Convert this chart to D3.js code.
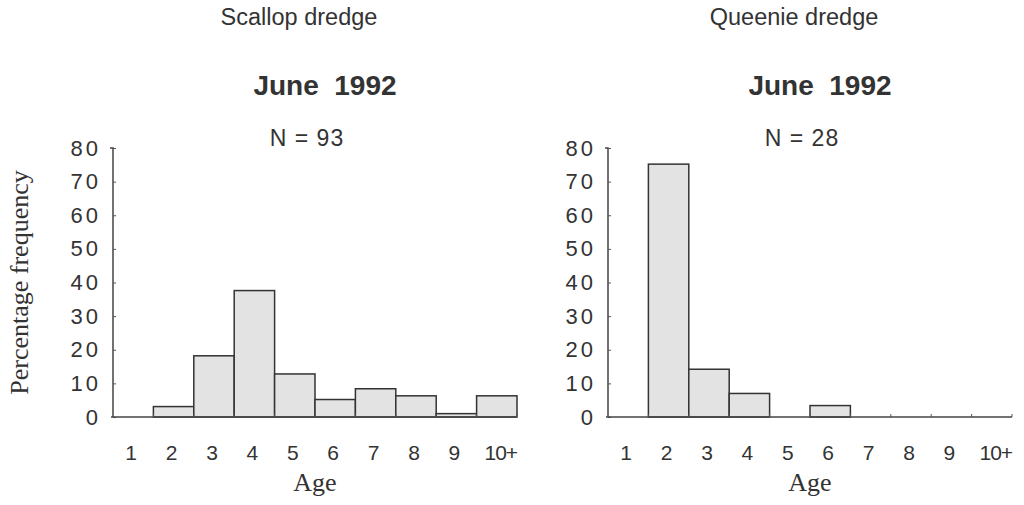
<!DOCTYPE html>
<html>
<head>
<meta charset="utf-8">
<script src="https://cdn.jsdelivr.net/npm/d3@7"></script>
<style>
  body { margin: 0; background: #fff; }
  svg { display: block; }
  .sans { font-family: "Liberation Sans", Arial, Helvetica, sans-serif; fill: #333; }
  .serif { font-family: "Liberation Serif", "Times New Roman", serif; fill: #333; }
</style>
</head>
<body>
<svg id="chart" width="1024" height="505"></svg>
<script>
(function () {
// data
var ages = ['1', '2', '3', '4', '5', '6', '7', '8', '9', '10+']
var scallopPct = [0, 3.1, 18.2, 37.6, 12.8, 5.2, 8.4, 6.3, 1.0, 6.3]
var queeniePct = [0, 75.2, 14.2, 7.0, 0, 3.4, 0, 0, 0, 0]
var gearNames = ['Scallop dredge', 'Queenie dredge']
var sampleSizes = [93, 28]
var yTicks = [0, 10, 20, 30, 40, 50, 60, 70, 80]
var monthLabel = 'June  1992'

var panels = [
    { name: gearNames[0], n: sampleSizes[0], values: scallopPct, x0: 113, x1: 517 },
    { name: gearNames[1], n: sampleSizes[1], values: queeniePct, x0: 608, x1: 1012 }
]

var top = 148, bottom = 417
var svg = d3.select('#chart')

var y = d3.scaleLinear().domain([0, 80]).range([bottom, top])

panels.forEach(function (p, pi) {
    var g = svg.append('g')
    var x = d3.scaleBand().domain(ages).range([p.x0, p.x1]).padding(0)
    var cx = (p.x0 + p.x1) / 2

    // bars
    g.selectAll('rect.bar')
        .data(ages.map(function (a, i) { return { age: a, v: p.values[i] } }).filter(function (d) { return d.v > 0 }))
        .enter()
        .append('rect')
        .attr('class', 'bar')
        .attr('x', function (d) { return x(d.age) })
        .attr('width', x.bandwidth())
        .attr('y', function (d) { return y(d.v) })
        .attr('height', function (d) { return y(0) - y(d.v) })
        .attr('fill', '#e3e3e3')
        .attr('stroke', '#333')
        .attr('stroke-width', 1.5)

    // y axis, ticks pointing inwards
    var ya = g.append('g')
        .attr('transform', 'translate(' + p.x0 + ',0)')
        .call(d3.axisLeft(y).tickValues(yTicks).tickSize(-3).tickPadding(12))
    ya.select('.domain').attr('stroke', '#444').attr('stroke-width', 1.5).attr('d', 'M-3,' + top + 'H0V' + bottom)
    ya.selectAll('.tick line').attr('stroke', '#555')
    ya.selectAll('.tick text')
        .attr('class', 'sans')
        .style('font-size', '22px')
        .style('letter-spacing', '3px')
        .attr('fill', '#333')

    // x axis line + small upward ticks at bin edges
    g.append('line')
        .attr('x1', p.x0 - 2).attr('x2', p.x1)
        .attr('y1', bottom).attr('y2', bottom)
        .attr('stroke', '#444').attr('stroke-width', 1.5)
    g.selectAll('line.edge')
        .data(ages)
        .enter()
        .append('line')
        .attr('class', 'edge')
        .attr('x1', function (d) { return x(d) + x.bandwidth() })
        .attr('x2', function (d) { return x(d) + x.bandwidth() })
        .attr('y1', bottom).attr('y2', bottom - 3)
        .attr('stroke', '#555').attr('stroke-width', 1)

    var xa = g.append('g')
        .attr('transform', 'translate(0,' + bottom + ')')
        .call(d3.axisBottom(x).tickSize(0).tickPadding(28))
    xa.select('.domain').remove()
    xa.selectAll('.tick text')
        .attr('class', 'sans')
        .style('font-size', '21px')
        .style('letter-spacing', function (d) { return d == '10+' ? '-1px' : '0px' })
        .attr('dx', function (d) { return d == '10+' ? 4 : -2 })
        .attr('fill', '#333')

    // axis titles
    g.append('text')
        .attr('class', 'serif')
        .attr('x', cx).attr('y', 491)
        .attr('text-anchor', 'middle')
        .style('font-size', '26px')
        .text('Age')

    // headers
    g.append('text')
        .attr('class', 'sans')
        .attr('x', cx - 16).attr('y', 25)
        .attr('text-anchor', 'middle')
        .style('font-size', '23.5px')
        .text(p.name)
    g.append('text')
        .attr('class', 'sans')
        .attr('x', cx + 10).attr('y', 95)
        .attr('text-anchor', 'middle')
        .style('font-size', '28px')
        .style('font-weight', 'bold')
        .style('white-space', 'pre')
        .text(monthLabel)
    g.append('text')
        .attr('class', 'sans')
        .attr('x', cx - 8).attr('y', 146)
        .attr('text-anchor', 'middle')
        .style('font-size', '23px')
        .style('letter-spacing', '1px')
        .text('N = ' + p.n)
})

svg.append('text')
    .attr('class', 'serif')
    .attr('transform', 'translate(28,' + (top + bottom) / 2 + ') rotate(-90)')
    .attr('text-anchor', 'middle')
    .style('font-size', '26px')
    .text('Percentage frequency')
})();
</script>
</body>
</html>
